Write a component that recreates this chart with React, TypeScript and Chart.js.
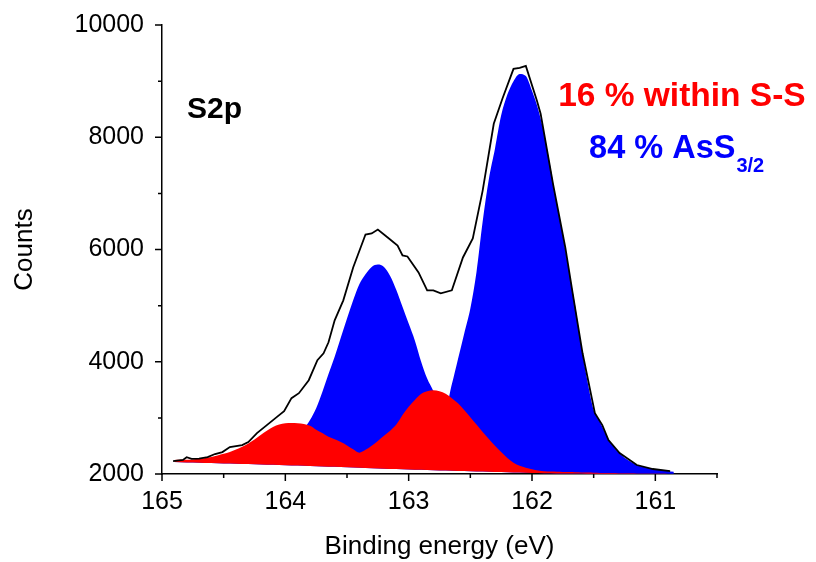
import React, { useEffect, useRef } from "react";
import { Chart, registerables } from "chart.js";

Chart.register(...registerables);

// Binding energy grid (eV) for the fitted components
const energyGrid = [
  164.90, 164.85, 164.80, 164.75, 164.70, 164.65, 164.60, 164.55, 164.50, 164.45,
  164.40, 164.35, 164.30, 164.25, 164.20, 164.15, 164.10, 164.05, 164.00, 163.95,
  163.90, 163.85, 163.80, 163.75, 163.70, 163.65, 163.60, 163.55, 163.50, 163.45,
  163.40, 163.35, 163.30, 163.25, 163.20, 163.15, 163.10, 163.05, 163.00, 162.95,
  162.90, 162.85, 162.80, 162.75, 162.70, 162.65, 162.60, 162.55, 162.50, 162.45,
  162.40, 162.35, 162.30, 162.25, 162.20, 162.15, 162.10, 162.05, 162.00, 161.95,
  161.90, 161.85, 161.80, 161.75, 161.70, 161.65, 161.60, 161.55, 161.50, 161.45,
  161.40, 161.35, 161.30, 161.25, 161.20, 161.15, 161.10, 161.05, 161.00, 160.95,
  160.90, 160.85,
];

// Background (counts)
const background = [
  2213, 2210, 2207, 2204, 2201, 2198, 2195, 2192, 2189, 2186,
  2183, 2180, 2177, 2174, 2170, 2167, 2164, 2160, 2157, 2153,
  2150, 2146, 2142, 2139, 2135, 2131, 2127, 2123, 2119, 2115,
  2111, 2107, 2103, 2099, 2095, 2091, 2088, 2084, 2081, 2077,
  2074, 2071, 2067, 2064, 2061, 2058, 2055, 2052, 2049, 2046,
  2043, 2040, 2037, 2034, 2031, 2028, 2025, 2022, 2019, 2017,
  2015, 2013, 2011, 2010, 2009, 2008, 2007, 2006, 2005, 2005,
  2005, 2005, 2005, 2005, 2005, 2005, 2005, 2005, 2005, 2005,
  2005, 2005,
];

// S-S component (background + peaks), red
const redCounts = [
  2249, 2252, 2256, 2260, 2270, 2285, 2305, 2330, 2360, 2391,
  2435, 2485, 2545, 2615, 2693, 2770, 2836, 2880, 2903, 2910,
  2905, 2890, 2860, 2790, 2730, 2665, 2620, 2570, 2510, 2440,
  2380, 2430, 2505, 2590, 2680, 2770, 2880, 3050, 3200, 3320,
  3425, 3475, 3493, 3475, 3430, 3350, 3260, 3140, 3013, 2880,
  2750, 2625, 2505, 2390, 2285, 2200, 2145, 2110, 2085, 2062,
  2050, 2044, 2040, 2037, 2035, 2032, 2028, 2025, 2022, 2020,
  2018, 2016, 2014, 2013, 2012, 2011, 2010, 2009, 2008, 2007,
  2006, 2005,
];

// AsS3/2 component (background + peaks), blue
const blueCounts = [
  2215, 2215, 2215, 2215, 2215, 2215, 2215, 2215, 2215, 2215,
  2220, 2225, 2235, 2250, 2270, 2300, 2340, 2400, 2470, 2560,
  2670, 2800, 2960, 3170, 3460, 3780, 4090, 4430, 4770, 5094,
  5380, 5560, 5690, 5733, 5690, 5530, 5280, 4980, 4680, 4380,
  4010, 3700, 3480, 3220, 3200, 3600, 4050, 4500, 4950, 5600,
  6500, 7250, 7800, 8390, 8760, 9000, 9129, 9090, 8827, 8500,
  8050, 7460, 6820, 6240, 5620, 5000, 4280, 3650, 3140, 2930,
  2700, 2520, 2390, 2290, 2220, 2160, 2130, 2105, 2085, 2070,
  2055, 2040,
];

// Measured spectrum (envelope)
const measuredEnergy = [
  164.91, 164.83, 164.80, 164.76, 164.70, 164.63, 164.57, 164.51, 164.45, 164.35,
  164.30, 164.23, 164.15, 164.07, 164.01, 163.95, 163.89, 163.81, 163.74, 163.69,
  163.65, 163.60, 163.53, 163.45, 163.35, 163.30, 163.25, 163.17, 163.09, 163.05,
  163.01, 162.92, 162.85, 162.80, 162.74, 162.65, 162.56, 162.48, 162.40, 162.31,
  162.24, 162.15, 162.10, 162.05, 161.96, 161.93, 161.83, 161.73, 161.67, 161.59,
  161.49, 161.43, 161.38, 161.29, 161.15, 161.02, 160.88,
];
const measuredCounts = [
  2231, 2250, 2300, 2270, 2275, 2300, 2356, 2391, 2480, 2516,
  2569, 2729, 2871, 3013, 3120, 3351, 3440, 3671, 4027, 4151,
  4347, 4738, 5094, 5680, 6267, 6285, 6356, 6214, 6071, 5894,
  5876, 5592, 5272, 5272, 5218, 5272, 5858, 6196, 7049, 8240,
  8685, 9218, 9236, 9271, 8649, 8418, 7174, 6036, 5218, 4151,
  3085, 2871, 2604, 2373, 2160, 2089, 2053,
];

const xMin = 160.5;
const xMax = 165;
const yMin = 2000;
const yMax = 10000;

const FONT = "'Liberation Sans', Arial, Helvetica, sans-serif";

const annotations = [
  { text: "S2p", x: 164.797, y: 8347, color: "#000000", size: 30 },
  { text: "16 % within S-S", x: 161.788, y: 8561, color: "#FF0000", size: 33.5 },
  { text: "84 % AsS", x: 161.537, y: 7636, color: "#0000FF", size: 32.5, sub: "3/2", subSize: 20 },
];

const toXY = (xs: number[], ys: number[]) => xs.map((x, i) => ({ x, y: ys[i] }));

const tickPlugin = {
  id: "customTicks",
  afterDraw(chart: any) {
    const { ctx, chartArea, scales } = chart;
    const xs = scales.x;
    const ys = scales.y;
    ctx.save();
    ctx.strokeStyle = "#000";
    ctx.lineWidth = 1.5;
    ctx.beginPath();
    xs.ticks.forEach((t: any) => {
      const px = xs.getPixelForValue(t.value);
      const major = Math.abs(t.value - Math.round(t.value)) < 1e-6;
      const len = major ? 7 : 4;
      ctx.moveTo(px, chartArea.bottom);
      ctx.lineTo(px, chartArea.bottom + len);
    });
    ys.ticks.forEach((t: any) => {
      const py = ys.getPixelForValue(t.value);
      const major = Math.abs(t.value / 2000 - Math.round(t.value / 2000)) < 1e-6;
      const len = major ? 7 : 4;
      ctx.moveTo(chartArea.left - len, py);
      ctx.lineTo(chartArea.left, py);
    });
    ctx.stroke();
    ctx.restore();
  },
};

const textPlugin = {
  id: "annotText",
  afterDraw(chart: any) {
    const { ctx, scales } = chart;
    ctx.save();
    ctx.textAlign = "left";
    ctx.textBaseline = "alphabetic";
    annotations.forEach((a) => {
      const px = scales.x.getPixelForValue(a.x);
      const py = scales.y.getPixelForValue(a.y);
      ctx.fillStyle = a.color;
      ctx.font = `bold ${a.size}px ${FONT}`;
      ctx.fillText(a.text, px, py);
      if (a.sub) {
        const w = ctx.measureText(a.text).width;
        ctx.font = `bold ${a.subSize}px ${FONT}`;
        ctx.fillText(a.sub, px + w + 1, py + 14);
      }
    });
    ctx.restore();
  },
};

export default function App() {
  const canvasRef = useRef<HTMLCanvasElement | null>(null);

  useEffect(() => {
    if (!canvasRef.current) return;
    const chart = new Chart(canvasRef.current, {
      type: "line",
      data: {
        datasets: [
          {
            label: "Measured",
            data: toXY(measuredEnergy, measuredCounts),
            borderColor: "#000000",
            borderWidth: 1.8,
            pointRadius: 0,
            tension: 0,
            fill: false,
          },
          {
            label: "S-S",
            data: toXY(energyGrid, redCounts),
            borderColor: "#FF0000",
            backgroundColor: "#FF0000",
            borderWidth: 0,
            pointRadius: 0,
            cubicInterpolationMode: "monotone",
            fill: 3,
          },
          {
            label: "AsS3/2",
            data: toXY(energyGrid, blueCounts),
            borderColor: "#0000FF",
            backgroundColor: "#0000FF",
            borderWidth: 0,
            pointRadius: 0,
            cubicInterpolationMode: "monotone",
            fill: 3,
          },
          {
            label: "Background",
            data: toXY(energyGrid, background),
            borderColor: "rgba(0,0,0,0)",
            borderWidth: 0,
            pointRadius: 0,
            fill: false,
          },
        ],
      },
      options: {
        animation: false,
        responsive: false,
        parsing: true,
        layout: { padding: { left: 0, right: 99, top: 15, bottom: 0 } },
        plugins: {
          legend: { display: false },
          tooltip: { enabled: false },
        },
        scales: {
          x: {
            type: "linear",
            reverse: true,
            min: xMin,
            max: xMax,
            grid: { display: false },
            border: { display: true, color: "#000", width: 1.5 },
            ticks: {
              stepSize: 0.5,
              padding: 5,
              color: "#000",
              font: { family: FONT, size: 25 },
              maxRotation: 0,
              autoSkip: false,
              callback: (v: any) => {
                const n = Number(v);
                return Math.abs(n - Math.round(n)) < 1e-6 ? String(Math.round(n)) : "";
              },
            },
            title: {
              display: true,
              text: "Binding energy (eV)",
              color: "#000",
              font: { family: FONT, size: 26 },
              padding: { top: 0, bottom: 0 },
            },
            afterFit: (scale: any) => {
              scale.height = 88;
            },
          },
          y: {
            type: "linear",
            min: yMin,
            max: yMax,
            grid: { display: false },
            border: { display: true, color: "#000", width: 1.5 },
            ticks: {
              stepSize: 1000,
              padding: 10,
              color: "#000",
              font: { family: FONT, size: 25 },
              autoSkip: false,
              callback: (v: any) => {
                const n = Number(v);
                return Math.abs(n / 2000 - Math.round(n / 2000)) < 1e-6 ? String(Math.round(n)) : "";
              },
            },
            title: {
              display: true,
              text: "Counts",
              color: "#000",
              font: { family: FONT, size: 26 },
              padding: { top: 9, bottom: 0 },
            },
            afterFit: (scale: any) => {
              scale.width = 162;
            },
          },
        },
      },
      plugins: [tickPlugin, textPlugin],
    });
    return () => chart.destroy();
  }, []);

  return (
    <div style={{ position: "fixed", left: 0, top: 0, width: 816, height: 562, background: "#fff" }}>
      <canvas ref={canvasRef} width={816} height={562} style={{ display: "block" }} />
    </div>
  );
}
